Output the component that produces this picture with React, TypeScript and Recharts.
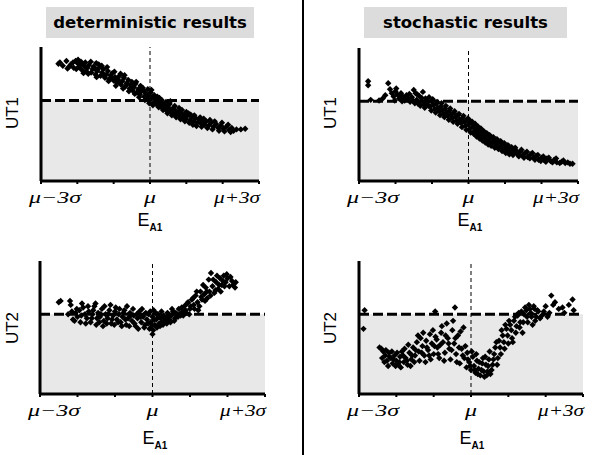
import React from "react";
import {
  ReferenceArea,
  ReferenceLine,
  Scatter,
  ScatterChart,
  XAxis,
  YAxis,
} from "recharts";

// x in units of sigma around mu, y in tick units of each panel
const SIGMA_TICKS = [-3, -2, -1, 0, 1, 2, 3];
const SIGMA_LABELS: Record<number, string> = {
  [-3]: "μ−3σ",
  [0]: "μ",
  [3]: "μ+3σ",
};

const DET_UT1: [number, number][] = [
  [-2.52, 8.75], [-2.48, 8.85], [-2.22, 8.55], [-2.18, 8.7], [-2.1, 8.45], [-2.05, 8.95],
  [-2.0, 8.8], [-1.96, 8.5], [-1.92, 8.65], [-1.88, 8.3], [-1.85, 8.75], [-1.8, 8.55],
  [-1.76, 8.2], [-1.72, 8.45], [-1.68, 8.65], [-1.62, 8.1], [-1.58, 8.35], [-1.55, 8.55],
  [-1.5, 7.95], [-1.48, 8.8], [-1.45, 8.2], [-1.4, 8.45], [-1.36, 7.85], [-1.32, 8.1],
  [-1.28, 8.35], [-1.24, 7.7], [-1.2, 7.95], [-1.16, 8.2], [-1.12, 7.6], [-1.08, 7.85],
  [-1.04, 8.05], [-1.0, 7.5], [-0.96, 7.75], [-0.92, 7.35], [-0.88, 7.6], [-0.84, 7.85],
  [-0.8, 7.2], [-0.76, 7.45], [-0.72, 7.7], [-0.68, 7.05], [-0.64, 7.3], [-0.6, 7.55],
  [-0.56, 6.9], [-0.52, 7.15], [-0.48, 6.75], [-0.44, 7.0], [-0.4, 7.25], [-0.36, 6.6],
  [-0.32, 6.85], [-0.28, 6.45], [-0.24, 6.7], [-0.2, 6.95], [-0.16, 6.3], [-0.12, 6.55],
  [-0.08, 6.15], [-0.04, 6.4], [0.0, 6.05], [0.02, 6.6], [0.06, 6.25], [0.1, 5.85],
  [0.14, 6.1], [0.18, 5.7], [0.22, 5.95], [0.26, 6.2], [0.3, 5.55], [0.34, 5.8],
  [0.38, 5.4], [0.42, 5.65], [0.46, 5.25], [0.5, 5.5], [0.54, 5.75], [0.58, 5.15],
  [0.62, 5.4], [0.66, 5.0], [0.7, 5.25], [0.74, 4.9], [0.78, 5.15], [0.82, 4.8],
  [0.86, 5.05], [0.9, 4.7], [0.94, 4.95], [0.98, 4.6], [1.02, 4.85], [1.06, 5.05],
  [1.1, 4.55], [1.15, 4.8], [1.2, 4.45], [1.25, 4.7], [1.3, 4.35], [1.35, 4.6],
  [1.4, 4.3], [1.45, 4.5], [1.5, 4.2], [1.55, 4.45], [1.62, 4.15], [1.68, 4.35],
  [1.75, 4.05], [1.82, 4.25], [1.88, 3.95], [1.95, 4.15], [2.02, 3.9], [2.1, 4.05],
  [2.18, 3.8], [2.25, 3.95], [2.5, 3.85],
  [-2.4, 8.6], [-2.3, 8.95], [-2.27, 8.4], [-2.12, 8.85], [-2.03, 8.35], [-1.98, 9.05],
  [-1.9, 8.9], [-1.83, 8.05], [-1.78, 8.85], [-1.7, 8.0], [-1.63, 8.9], [-1.52, 8.4],
  [-1.47, 7.75], [-1.41, 8.7], [-1.33, 8.6], [-1.27, 7.9], [-1.18, 8.5], [-1.14, 7.45],
  [-1.06, 7.7], [-0.98, 8.15], [-0.94, 7.1], [-0.86, 7.4], [-0.81, 8.0], [-0.74, 6.9],
  [-0.7, 7.9], [-0.62, 7.25], [-0.58, 6.7], [-0.5, 7.4], [-0.42, 6.5], [-0.38, 7.4],
  [-0.3, 6.25], [-0.26, 7.1], [-0.18, 6.75], [-0.14, 6.05], [-0.06, 6.85], [-0.02, 5.8],
  [0.04, 6.8], [0.08, 5.65], [0.12, 6.4], [0.2, 6.3], [0.24, 5.5], [0.28, 5.8],
  [0.32, 6.05], [0.36, 5.3], [0.44, 5.9], [0.48, 5.05], [0.52, 5.3], [0.56, 5.95],
  [0.6, 4.9], [0.68, 5.6], [0.72, 4.75], [0.8, 5.45], [0.84, 4.6], [0.88, 5.3],
  [0.96, 4.45], [1.0, 5.15], [1.08, 4.35], [1.12, 4.95], [1.18, 4.2], [1.22, 4.9],
  [1.28, 4.1], [1.38, 4.75], [1.42, 4.05], [1.48, 4.65], [1.58, 3.95], [1.65, 4.55],
  [1.72, 3.85], [1.78, 4.45], [1.9, 3.75], [1.98, 4.35], [2.05, 3.7], [2.15, 4.2],
  [2.22, 3.65], [2.3, 3.75], [2.38, 3.85], [2.62, 3.9],
];

const STO_UT1: [number, number][] = [
  [-2.75, 7.5], [-2.75, 7.2], [-2.45, 6.05], [-2.35, 6.2], [-2.2, 7.35], [-2.15, 6.9],
  [-2.1, 6.6], [-2.05, 6.35], [-2.0, 6.75], [-1.95, 6.5], [-1.9, 6.2], [-1.85, 6.6],
  [-1.8, 6.35], [-1.75, 6.05], [-1.7, 6.45], [-1.65, 6.2], [-1.6, 5.95], [-1.55, 6.3],
  [-1.5, 6.85], [-1.45, 6.6], [-1.42, 6.1], [-1.38, 5.8], [-1.35, 6.4], [-1.3, 6.0],
  [-1.25, 6.7], [-1.22, 5.75], [-1.18, 6.2], [-1.12, 5.9], [-1.08, 6.3], [-1.05, 5.6],
  [-1.0, 5.95], [-0.96, 5.7], [-0.92, 5.4], [-0.88, 5.8], [-0.84, 5.5], [-0.8, 5.25],
  [-0.76, 5.6], [-0.72, 5.3], [-0.68, 5.05], [-0.64, 5.45], [-0.6, 5.15], [-0.56, 4.9],
  [-0.52, 5.3], [-0.48, 5.0], [-0.44, 4.75], [-0.4, 5.1], [-0.36, 4.8], [-0.32, 4.55],
  [-0.28, 4.95], [-0.24, 4.6], [-0.2, 4.35], [-0.16, 4.75], [-0.12, 4.45], [-0.08, 4.15],
  [-0.04, 4.55], [0.0, 4.25], [0.04, 3.95], [0.08, 4.35], [0.12, 4.05], [0.16, 3.75],
  [0.2, 3.95], [0.24, 3.6], [0.28, 3.85], [0.32, 3.45], [0.36, 3.7], [0.4, 3.3],
  [0.44, 3.55], [0.48, 3.15], [0.52, 3.4], [0.56, 3.0], [0.6, 3.25], [0.65, 2.9],
  [0.7, 3.1], [0.75, 2.75], [0.8, 2.95], [0.85, 2.6], [0.9, 2.8], [0.95, 2.45],
  [1.0, 2.65], [1.05, 2.3], [1.1, 2.5], [1.15, 2.2], [1.2, 2.4], [1.25, 2.1],
  [1.3, 2.3], [1.35, 2.0], [1.42, 2.2], [1.48, 1.9], [1.55, 2.1], [1.62, 1.8],
  [1.7, 2.0], [1.78, 1.75], [1.85, 1.9], [1.92, 1.6], [2.0, 1.75], [2.08, 1.55],
  [2.15, 1.7], [2.25, 1.5], [2.35, 1.6], [2.42, 1.4], [2.55, 1.45], [2.65, 1.35],
  [2.72, 1.4], [2.85, 1.3],
  [-2.68, 6.1], [-2.28, 6.45], [-2.02, 6.05], [-1.98, 6.95], [-1.88, 6.45], [-1.82, 6.0],
  [-1.72, 6.25], [-1.62, 6.55], [-1.52, 6.05], [-1.47, 5.85], [-1.4, 6.5], [-1.32, 5.65],
  [-1.28, 6.25], [-1.2, 5.5], [-1.15, 6.05], [-1.1, 5.65], [-1.02, 5.3], [-0.98, 6.15],
  [-0.9, 5.15], [-0.86, 5.95], [-0.78, 4.95], [-0.74, 5.85], [-0.66, 4.8], [-0.62, 5.65],
  [-0.54, 4.6], [-0.5, 5.45], [-0.42, 4.45], [-0.38, 5.25], [-0.3, 4.3], [-0.26, 5.05],
  [-0.18, 4.05], [-0.14, 4.9], [-0.06, 3.85], [-0.02, 4.7], [0.02, 4.6], [0.06, 3.65],
  [0.1, 4.45], [0.14, 3.55], [0.18, 4.3], [0.22, 3.35], [0.26, 4.1], [0.3, 3.2],
  [0.34, 3.95], [0.38, 3.05], [0.42, 3.75], [0.46, 2.9], [0.5, 3.6], [0.54, 2.75],
  [0.58, 3.45], [0.62, 2.65], [0.68, 3.3], [0.72, 2.5], [0.78, 3.15], [0.82, 2.4],
  [0.88, 3.0], [0.92, 2.25], [0.98, 2.85], [1.02, 2.1], [1.08, 2.7], [1.12, 2.0],
  [1.18, 2.55], [1.22, 1.95], [1.28, 2.5], [1.38, 1.85], [1.45, 2.35], [1.52, 1.75],
  [1.6, 2.2], [1.68, 1.7], [1.75, 2.1], [1.82, 1.6], [1.9, 1.95], [1.98, 1.5],
  [2.05, 1.85], [2.12, 1.45], [2.2, 1.75], [2.3, 1.4], [2.4, 1.7], [2.5, 1.35],
  [2.6, 1.55], [2.78, 1.3],
];

const DET_UT2: [number, number][] = [
  [-2.5, 3.45], [-2.45, 3.5], [-2.2, 3.5], [-2.18, 3.35], [-2.15, 3.1], [-2.12, 2.8],
  [-2.05, 3.05], [-2.0, 2.9], [-1.95, 3.15], [-1.9, 2.95], [-1.85, 3.25], [-1.8, 3.0],
  [-1.75, 2.85], [-1.7, 3.1], [-1.65, 2.7], [-1.6, 3.0], [-1.55, 3.3], [-1.5, 2.6],
  [-1.48, 2.85], [-1.45, 3.05], [-1.4, 2.9], [-1.35, 3.2], [-1.3, 2.75], [-1.25, 3.0],
  [-1.2, 2.85], [-1.15, 3.15], [-1.1, 2.65], [-1.05, 2.95], [-1.0, 3.1], [-0.95, 2.8],
  [-0.9, 3.0], [-0.85, 2.7], [-0.8, 2.9], [-0.75, 3.15], [-0.7, 2.6], [-0.65, 2.85],
  [-0.6, 3.05], [-0.55, 2.75], [-0.5, 2.95], [-0.45, 2.55], [-0.4, 2.85], [-0.35, 3.1],
  [-0.3, 2.7], [-0.25, 2.9], [-0.2, 2.6], [-0.15, 2.8], [-0.1, 3.0], [-0.08, 2.45],
  [-0.05, 2.7], [0.0, 2.9], [0.0, 2.25], [0.03, 3.15], [0.06, 2.6], [0.1, 2.8],
  [0.14, 3.0], [0.18, 2.65], [0.22, 2.85], [0.26, 2.7], [0.3, 2.95], [0.35, 2.75],
  [0.4, 3.05], [0.45, 2.8], [0.5, 2.95], [0.55, 3.1], [0.6, 2.85], [0.65, 3.0],
  [0.7, 3.2], [0.75, 2.95], [0.8, 3.1], [0.85, 3.3], [0.9, 3.05], [0.95, 3.45],
  [1.0, 3.2], [1.05, 3.55], [1.1, 3.35], [1.15, 3.7], [1.2, 3.45], [1.22, 3.15],
  [1.28, 3.85], [1.32, 3.55], [1.38, 3.75], [1.42, 4.0], [1.46, 3.6], [1.5, 4.3],
  [1.52, 3.85], [1.56, 4.55], [1.6, 4.05], [1.65, 3.8], [1.7, 4.2], [1.75, 3.95],
  [1.8, 4.35], [1.85, 4.1], [1.9, 4.45], [1.95, 4.2], [2.0, 4.35], [2.05, 4.05],
  [2.12, 4.25], [2.2, 4.0],
  [-2.25, 3.0], [-2.08, 2.75], [-2.02, 3.2], [-1.92, 2.7], [-1.88, 3.4], [-1.78, 2.65],
  [-1.72, 3.3], [-1.62, 2.85], [-1.58, 3.15], [-1.52, 3.4], [-1.42, 2.7], [-1.38, 3.0],
  [-1.32, 2.55], [-1.28, 3.3], [-1.22, 2.65], [-1.18, 3.0], [-1.12, 3.35], [-1.08, 2.8],
  [-1.02, 2.6], [-0.98, 3.25], [-0.92, 2.7], [-0.88, 3.2], [-0.82, 2.55], [-0.78, 3.05],
  [-0.72, 2.8], [-0.68, 3.3], [-0.62, 2.55], [-0.58, 2.95], [-0.52, 3.2], [-0.48, 2.65],
  [-0.42, 3.0], [-0.38, 2.45], [-0.32, 2.9], [-0.28, 3.2], [-0.22, 2.5], [-0.18, 3.05],
  [-0.12, 2.65], [-0.06, 3.1], [-0.02, 2.55], [0.02, 2.4], [0.04, 2.8], [0.08, 3.05],
  [0.12, 2.5], [0.16, 2.9], [0.2, 2.55], [0.24, 3.1], [0.28, 2.6], [0.32, 2.85],
  [0.38, 2.65], [0.42, 2.9], [0.48, 2.7], [0.52, 3.2], [0.58, 2.75], [0.62, 3.05],
  [0.68, 2.9], [0.72, 3.0], [0.78, 3.25], [0.82, 2.95], [0.88, 3.15], [0.92, 3.4],
  [0.98, 3.0], [1.02, 3.3], [1.08, 3.6], [1.12, 3.2], [1.18, 3.85], [1.25, 3.3],
  [1.3, 3.65], [1.35, 4.1], [1.4, 3.5], [1.45, 3.85], [1.55, 3.7], [1.62, 4.3],
  [1.68, 3.9], [1.72, 4.45], [1.78, 4.1], [1.82, 3.85], [1.88, 4.25], [1.92, 4.05],
  [1.98, 4.5], [2.08, 4.4], [2.15, 4.1], [2.22, 4.2],
];

const STO_UT2: [number, number][] = [
  [-2.85, 3.15], [-2.88, 2.45], [-2.4, 1.7], [-2.35, 1.6], [-2.3, 1.45], [-2.25, 1.25],
  [-2.2, 1.55], [-2.15, 1.35], [-2.1, 1.15], [-2.05, 1.45], [-2.0, 1.25], [-1.95, 1.1],
  [-1.9, 1.4], [-1.85, 1.6], [-1.8, 1.2], [-1.75, 1.35], [-1.7, 1.1], [-1.65, 1.55],
  [-1.6, 1.3], [-1.55, 1.75], [-1.5, 1.45], [-1.45, 1.95], [-1.4, 1.6], [-1.38, 1.25],
  [-1.35, 2.1], [-1.3, 1.8], [-1.25, 1.45], [-1.2, 2.0], [-1.15, 1.65], [-1.1, 2.25],
  [-1.08, 1.3], [-1.05, 1.9], [-1.0, 1.5], [-0.96, 3.1], [-0.95, 2.15], [-0.9, 1.75],
  [-0.85, 1.35], [-0.8, 2.3], [-0.75, 1.95], [-0.7, 1.55], [-0.65, 2.65], [-0.62, 2.1],
  [-0.58, 1.7], [-0.55, 1.3], [-0.5, 2.4], [-0.45, 1.9], [-0.43, 3.25], [-0.4, 1.5],
  [-0.35, 2.2], [-0.3, 1.15], [-0.25, 1.7], [-0.2, 2.5], [-0.18, 1.35], [-0.12, 1.0],
  [-0.1, 1.55], [-0.05, 1.2], [0.0, 0.9], [0.05, 1.4], [0.08, 1.05], [0.12, 0.8],
  [0.16, 1.25], [0.2, 0.95], [0.25, 0.7], [0.3, 1.15], [0.34, 0.85], [0.38, 1.4],
  [0.42, 0.7], [0.46, 1.05], [0.5, 1.6], [0.55, 0.9], [0.6, 1.3], [0.65, 1.75],
  [0.7, 1.1], [0.75, 2.0], [0.8, 1.5], [0.85, 2.2], [0.9, 1.7], [0.95, 2.45],
  [1.0, 1.9], [1.05, 2.6], [1.1, 2.1], [1.15, 2.75], [1.2, 2.3], [1.25, 2.95],
  [1.3, 2.5], [1.35, 3.1], [1.4, 2.7], [1.45, 3.25], [1.5, 2.9], [1.55, 3.35],
  [1.6, 3.05], [1.65, 2.6], [1.7, 3.2], [1.75, 2.9], [1.8, 3.1], [1.9, 2.95],
  [2.0, 3.3], [2.05, 2.9], [2.15, 3.7], [2.25, 3.45], [2.45, 3.25], [2.5, 3.05],
  [2.72, 3.55], [2.75, 3.15],
  [-2.45, 1.75], [-2.38, 1.35], [-2.32, 1.2], [-2.28, 1.65], [-2.22, 1.05], [-2.18, 1.4],
  [-2.12, 1.6], [-2.08, 1.3], [-2.02, 1.05], [-1.98, 1.55], [-1.92, 1.2], [-1.88, 1.0],
  [-1.82, 1.45], [-1.78, 1.7], [-1.72, 1.25], [-1.68, 1.85], [-1.62, 1.05], [-1.58, 1.45],
  [-1.52, 1.2], [-1.48, 1.65], [-1.42, 2.2], [-1.32, 1.55], [-1.28, 2.3], [-1.22, 1.2],
  [-1.18, 1.75], [-1.12, 1.45], [-1.02, 2.4], [-0.98, 1.8], [-0.92, 2.05], [-0.88, 1.5],
  [-0.82, 1.85], [-0.78, 2.55], [-0.72, 1.25], [-0.68, 2.2], [-0.6, 1.9], [-0.52, 1.65],
  [-0.48, 2.75], [-0.42, 2.1], [-0.38, 1.2], [-0.32, 1.75], [-0.28, 2.35], [-0.22, 1.45],
  [-0.15, 1.8], [-0.08, 1.3], [-0.02, 1.05], [0.02, 1.6], [0.1, 0.9], [0.14, 1.5],
  [0.18, 0.75], [0.22, 1.2], [0.28, 0.9], [0.32, 1.35], [0.36, 0.65], [0.4, 1.1],
  [0.44, 0.85], [0.48, 1.3], [0.52, 0.75], [0.58, 1.1], [0.62, 1.5], [0.68, 1.95],
  [0.72, 1.35], [0.78, 1.75], [0.82, 2.4], [0.88, 1.95], [0.92, 2.6], [0.98, 2.2],
  [1.02, 2.75], [1.08, 2.4], [1.12, 1.95], [1.18, 2.9], [1.22, 2.55], [1.28, 3.05],
  [1.32, 2.7], [1.38, 2.3], [1.42, 3.0], [1.48, 3.15], [1.52, 2.7], [1.58, 3.2],
  [1.62, 2.9], [1.68, 3.3], [1.72, 2.75], [1.78, 3.15], [1.85, 2.85], [1.95, 3.1],
  [2.1, 3.05], [2.2, 3.35], [2.35, 3.2], [2.62, 3.35],
];

const toPts = (a: [number, number][]) => a.map(([x, y]) => ({ x, y }));

function Diamond(props: any) {
  const { cx, cy } = props;
  if (cx == null || cy == null) return <g />;
  const r = 3.2;
  return (
    <path
      d={`M${cx},${cy - r}L${cx + r},${cy}L${cx},${cy + r}L${cx - r},${cy}Z`}
      fill="#000"
    />
  );
}

function XTick(props: any) {
  const { x, y, payload } = props;
  const label = SIGMA_LABELS[payload.value];
  if (!label) return <g />;
  // end labels sit inside the axis ends
  const cx = payload.value === -3 ? x + 14 : payload.value === 3 ? x - 22 : x;
  const len = payload.value === 0 ? 12 : payload.value === -3 ? 52 : 46;
  return (
    <text
      x={cx}
      y={y + 16}
      textAnchor="middle"
      fontFamily="'Liberation Serif', serif"
      fontStyle="italic"
      fontSize={17}
      fill="#000"
      textLength={len}
      lengthAdjust="spacingAndGlyphs"
    >
      {label}
    </text>
  );
}

function Panel(p: {
  left: number;
  top: number;
  width: number;
  height: number;
  yAxisW: number;
  marginRight: number;
  marginTop: number;
  xAxisH: number;
  yMax: number;
  threshold: number;
  data: [number, number][];
}) {
  const yTicks = Array.from({ length: p.yMax + 1 }, (_, i) => i);
  return (
    <div style={{ position: "absolute", left: p.left, top: p.top }}>
      <ScatterChart
        width={p.width}
        height={p.height}
        margin={{ top: p.marginTop, right: p.marginRight, bottom: 0, left: 0 }}
      >
        <ReferenceArea
          x1={-3}
          x2={3}
          y1={0}
          y2={p.threshold}
          fill="#e8e8e8"
          fillOpacity={1}
          stroke="none"
        />
        <XAxis
          type="number"
          dataKey="x"
          domain={[-3, 3]}
          ticks={SIGMA_TICKS}
          interval={0}
          height={p.xAxisH}
          axisLine={{ stroke: "#000", strokeWidth: 3 }}
          tickLine={{ stroke: "#000", strokeWidth: 2 }}
          tickSize={3}
          tickMargin={3}
          tick={<XTick />}
        />
        <YAxis
          type="number"
          dataKey="y"
          domain={[0, p.yMax]}
          ticks={yTicks}
          interval={0}
          width={p.yAxisW}
          axisLine={{ stroke: "#000", strokeWidth: 3 }}
          tickLine={{ stroke: "#000", strokeWidth: 2 }}
          tickSize={4}
          tick={false}
        />
        <ReferenceLine x={0} stroke="#000" strokeWidth={1} strokeDasharray="4 3" />
        <ReferenceLine
          y={p.threshold}
          stroke="#000"
          strokeWidth={3}
          strokeDasharray="10 4"
        />
        <Scatter
          data={toPts(p.data)}
          shape={Diamond}
          fill="#000"
          isAnimationActive={false}
        />
      </ScatterChart>
    </div>
  );
}

const sans = "'Liberation Sans', Arial, sans-serif";

function Title({ left, width, text }: { left: number; width: number; text: string }) {
  return (
    <div
      style={{
        position: "absolute",
        left,
        top: 7,
        width,
        height: 31,
        background: "#dcdcdc",
        fontFamily: "'DejaVu Sans', Verdana, sans-serif",
        fontWeight: "bold",
        fontSize: 16.5,
        lineHeight: "31px",
        textAlign: "center",
        color: "#000",
      }}
    >
      {text}
    </div>
  );
}

function YTitle({ cx, cy, text }: { cx: number; cy: number; text: string }) {
  return (
    <div
      style={{
        position: "absolute",
        left: cx - 30,
        top: cy - 10,
        width: 60,
        height: 20,
        lineHeight: "20px",
        textAlign: "center",
        fontFamily: sans,
        fontSize: 17,
        transform: "rotate(-90deg)",
      }}
    >
      {text}
    </div>
  );
}

function XTitle({ cx, cy }: { cx: number; cy: number }) {
  return (
    <div
      style={{
        position: "absolute",
        left: cx - 30,
        top: cy - 11,
        width: 60,
        height: 22,
        lineHeight: "22px",
        textAlign: "center",
        fontFamily: sans,
        fontSize: 18,
      }}
    >
      E
      <span style={{ fontSize: 10, fontWeight: "bold", verticalAlign: -5 }}>A1</span>
    </div>
  );
}

export default function App() {
  return (
    <div
      style={{
        position: "absolute",
        left: 0,
        top: 0,
        width: 602,
        height: 455,
        background: "#fff",
        overflow: "hidden",
      }}
    >
      <Title left={46} width={208} text="deterministic results" />
      <Title left={364} width={203} text="stochastic results" />
      <div
        style={{
          position: "absolute",
          left: 302,
          top: 0,
          width: 1.5,
          height: 455,
          background: "#000",
        }}
      />
      <Panel left={0} top={0} width={300} height={230} yAxisW={41} marginRight={41}
        marginTop={47} xAxisH={49} yMax={10} threshold={6} data={DET_UT1} />
      <Panel left={300} top={0} width={302} height={230} yAxisW={59} marginRight={24}
        marginTop={48} xAxisH={49} yMax={10} threshold={6} data={STO_UT1} />
      <Panel left={0} top={230} width={300} height={225} yAxisW={40} marginRight={35}
        marginTop={31} xAxisH={61} yMax={5} threshold={3} data={DET_UT2} />
      <Panel left={300} top={230} width={302} height={225} yAxisW={59} marginRight={19}
        marginTop={31} xAxisH={61} yMax={5} threshold={3} data={STO_UT2} />
      <YTitle cx={13} cy={113} text="UT1" />
      <YTitle cx={331} cy={113} text="UT1" />
      <YTitle cx={13} cy={328} text="UT2" />
      <YTitle cx={331} cy={328} text="UT2" />
      <XTitle cx={150} cy={220} />
      <XTitle cx={470} cy={220} />
      <XTitle cx={155} cy={438} />
      <XTitle cx={472} cy={438} />
    </div>
  );
}
